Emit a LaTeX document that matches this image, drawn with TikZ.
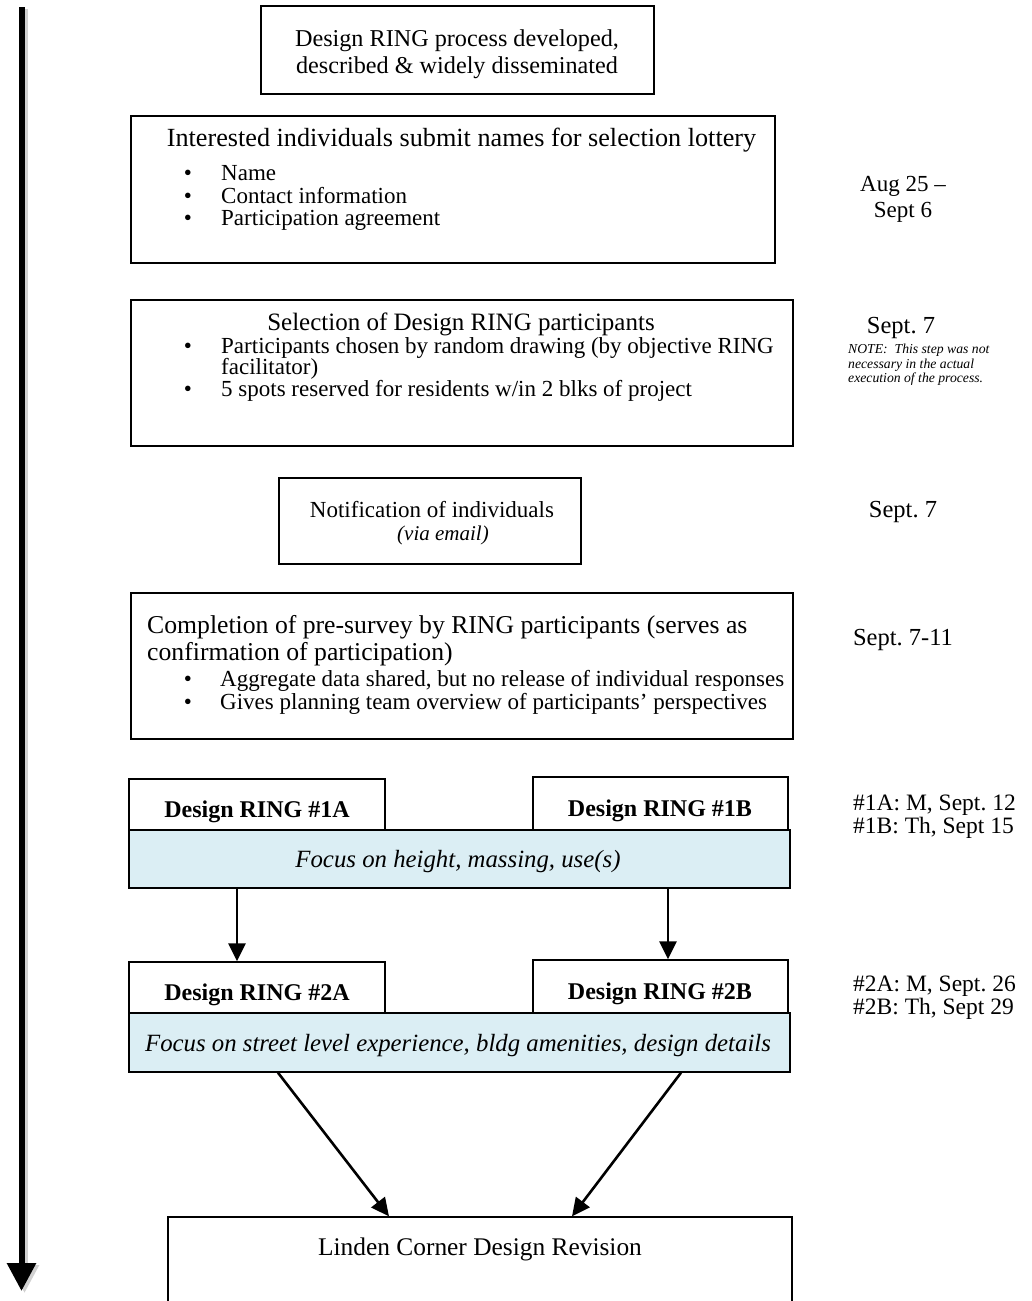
\documentclass[tikz,border=0pt]{standalone}
\usepackage{fontspec}
\setmainfont{Liberation Serif}
\usetikzlibrary{arrows.meta,calc}
\definecolor{focusblue}{HTML}{DBEEF4}
\frenchspacing
\tikzset{
  box/.style={draw=black, line width=1.4pt, fill=white, inner sep=0pt},
  focusbox/.style={box, fill=focusblue},
  timeline/.style={line width=6pt, -{Triangle[length=28pt,width=28pt]}},
  conn/.style={line width=2.6pt, -{Triangle[length=18pt,width=17pt]}},
  lt/.style={anchor=base west, inner sep=0pt, font=\fontsize{23}{27}\selectfont\frenchspacing},
  ct/.style={anchor=base, inner sep=0pt, font=\fontsize{23}{27}\selectfont\frenchspacing},
  bt/.style={anchor=base, inner sep=0pt, font=\fontsize{24}{28}\selectfont\bfseries},
  it/.style={anchor=base, inner sep=0pt, font=\fontsize{24.8}{28}\selectfont\itshape},
  dt/.style={anchor=base west, inner sep=0pt, font=\fontsize{23.5}{26}\selectfont\frenchspacing},
  nt/.style={anchor=base west, inner sep=0pt, font=\fontsize{13.7}{15}\selectfont\itshape},
  bul/.style={anchor=base, inner sep=0pt, font=\fontsize{23}{27}\selectfont},
}
\begin{document}
\begin{tikzpicture}[x=1pt,y=-1pt]
\useasboundingbox[fill=white] (0,0) rectangle (1032,1301);

% time line on the left
\coordinate (tlAs) at (24.5,9);
\coordinate (tlBs) at (24.5,1293);
\coordinate (tlA) at (21.5,7);
\coordinate (tlB) at (21.5,1291);
\draw[timeline, black!18] (tlAs) -- (tlBs);
\draw[timeline] (tlA) -- (tlB);

% boxes
\node[box, minimum width=393pt, minimum height=88pt] (b1) at (457.5,50) {};
\node[box, minimum width=644pt, minimum height=147pt] (b2) at (453,189.5) {};
\node[box, minimum width=662pt, minimum height=146pt] (b3) at (462,373) {};
\node[box, minimum width=302pt, minimum height=86pt] (b4) at (430,521) {};
\node[box, minimum width=662pt, minimum height=146pt] (b5) at (462,666) {};

\node[box, minimum width=256pt, minimum height=51pt] (r1a) at (257,804.5) {};
\node[box, minimum width=255pt, minimum height=53pt] (r1b) at (660.5,803.5) {};
\node[focusbox, minimum width=661pt, minimum height=58pt] (f1) at (459.5,859) {};

\node[box, minimum width=256pt, minimum height=51pt] (r2a) at (257,987.5) {};
\node[box, minimum width=255pt, minimum height=53pt] (r2b) at (660.5,986.5) {};
\node[focusbox, minimum width=661pt, minimum height=59pt] (f2) at (459.5,1042.5) {};

\node[box, minimum width=624pt, minimum height=120pt] (fin) at (480,1277) {};

% connectors
\coordinate (xL1) at (237,0);
\coordinate (xR1) at (668,0);
\coordinate (xL2a) at (278,0);
\coordinate (xL2b) at (389,0);
\coordinate (xR2a) at (681,0);
\coordinate (xR2b) at (572,0);
\draw[conn] (f1.south -| xL1) -- (r2a.north -| xL1);
\draw[conn] (f1.south -| xR1) -- (r2b.north -| xR1);
\draw[conn] (f2.south -| xL2a) -- (fin.north -| xL2b);
\draw[conn] (f2.south -| xR2a) -- (fin.north -| xR2b);

% box 1
\node[ct, font=\fontsize{24.2}{28}\selectfont] (t1a) at (457,46) {Design RING process developed,};
\node[ct, font=\fontsize{24.2}{28}\selectfont] (t1b) at (457,73) {described \& widely disseminated};

% box 2
\node[ct, font=\fontsize{26.2}{30}\selectfont] (t2) at (461.5,146) {Interested individuals submit names for selection lottery};
\node[bul] (u2a) at (188,180) {•};
\node[lt] (t2a) at (221,180) {Name};
\node[bul] (u2b) at (188,203) {•};
\node[lt] (t2b) at (221,203) {Contact information};
\node[bul] (u2c) at (188,225) {•};
\node[lt] (t2c) at (221,225) {Participation agreement};

% box 3
\node[ct, font=\fontsize{25}{29}\selectfont] (t3) at (461,330) {Selection of Design RING participants};
\node[bul] (u3a) at (188,353) {•};
\node[lt] (t3a) at (221,353) {Participants chosen by random drawing (by objective RING};
\node[lt] (t3b) at (221,374) {facilitator)};
\node[bul] (u3c) at (188,396) {•};
\node[lt] (t3c) at (221,396) {5 spots reserved for residents w/in 2 blks of project};

% box 4
\node[ct] (t4) at (432,517) {Notification of individuals};
\node[anchor=base, inner sep=0pt, font=\fontsize{21}{24}\selectfont\itshape] (t4b) at (443,540) {(via email)};

% box 5
\node[lt, font=\fontsize{25.7}{30}\selectfont] (t5a) at (147,633) {Completion of pre-survey by RING participants (serves as};
\node[lt, font=\fontsize{25.7}{30}\selectfont] (t5b) at (147,660) {confirmation of participation)};
\node[bul] (u5c) at (188,686) {•};
\node[lt] (t5c) at (220,686) {Aggregate data shared, but no release of individual responses};
\node[bul] (u5d) at (188,709) {•};
\node[lt] (t5d) at (220,709) {Gives planning team overview of participants’ perspectives};

% ring boxes
\node[bt] (tr1a) at (257,817) {Design RING \#1A};
\node[bt] (tr1b) at (660,816) {Design RING \#1B};
\node[it] (tf1) at (458,867) {Focus on height, massing, use(s)};
\node[bt] (tr2a) at (257,1000) {Design RING \#2A};
\node[bt] (tr2b) at (660,999) {Design RING \#2B};
\node[it] (tf2) at (458,1051) {Focus on street level experience, bldg amenities, design details};

% final box
\node[ct, font=\fontsize{25.4}{29}\selectfont] (tfin) at (480,1255) {Linden Corner Design Revision};

% dates column
\node[ct] (d1a) at (903,191) {Aug 25 –};
\node[ct] (d1b) at (903,217) {Sept 6};
\node[ct, font=\fontsize{24.5}{28}\selectfont] (d2) at (901,333) {Sept. 7};
\node[nt] (n1) at (848,353) {NOTE:\ \ This step was not};
\node[nt] (n2) at (848,368) {necessary in the actual};
\node[nt] (n3) at (848,382) {execution of the process.};
\node[ct, font=\fontsize{24.5}{28}\selectfont] (d3) at (903,517) {Sept. 7};
\node[ct, font=\fontsize{24.5}{28}\selectfont] (d4) at (903,645) {Sept. 7-11};
\node[dt] (d5a) at (853,810) {\#1A: M, Sept. 12};
\node[dt] (d5b) at (853,833) {\#1B: Th, Sept 15};
\node[dt] (d6a) at (853,991) {\#2A: M, Sept. 26};
\node[dt] (d6b) at (853,1014) {\#2B: Th, Sept 29};
\end{tikzpicture}
\end{document}
